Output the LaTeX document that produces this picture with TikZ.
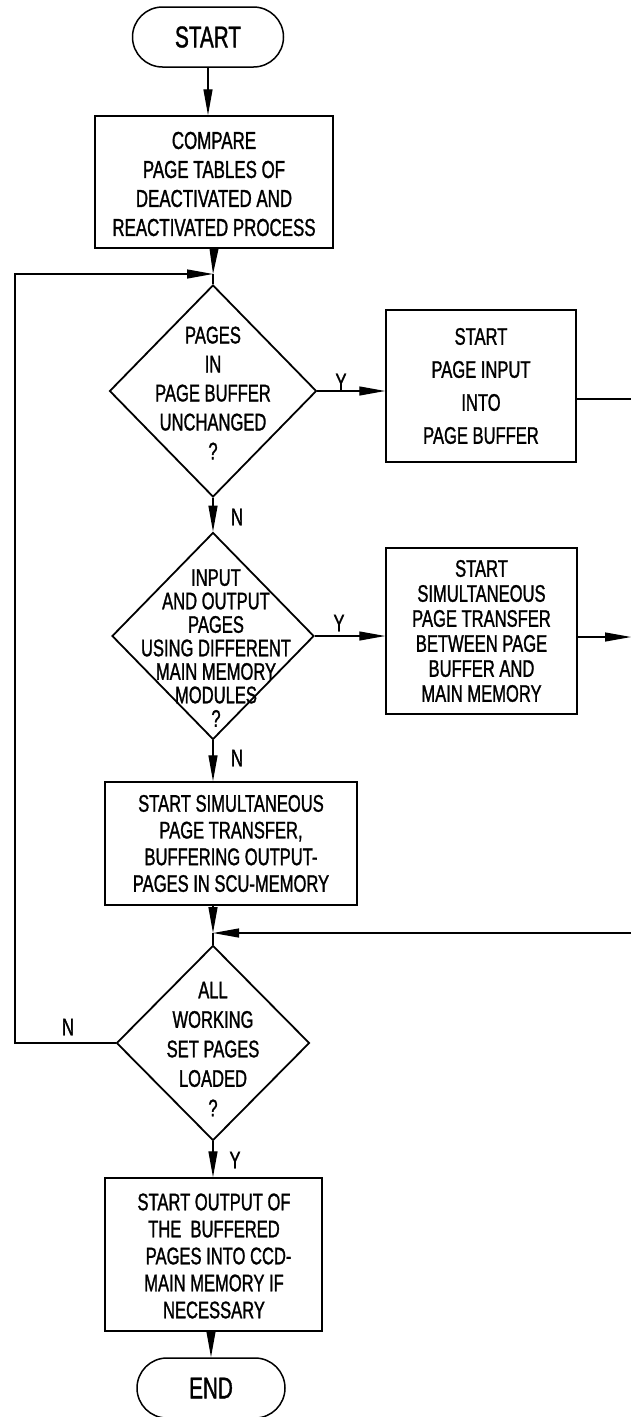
\documentclass[tikz,border=0pt]{standalone}
\usepackage{fontspec}
\usetikzlibrary{shapes.geometric,arrows.meta}
% narrow, slightly heavy sans lettering
\newfontfamily\lett[FakeStretch=0.69,FakeBold=1.2]{Liberation Sans}
\newcommand\lsz[2]{\lett\fontsize{#1pt}{#2pt}\selectfont}

\tikzset{
  terminal/.style={draw, line width=1.5pt, rectangle, rounded corners=30pt,
    minimum height=60pt, inner sep=0pt, font={\lsz{30}{30}}},
  procbox/.style={draw, line width=1.5pt, rectangle, inner sep=0pt},
  decision/.style={draw, line width=1.8pt, diamond, inner sep=0pt},
  txt/.style={align=center, inner sep=0pt},
  lbl/.style={inner sep=0pt, font={\lsz{24}{25}}},
  conn/.style={line width=1.3pt},
  arr/.style={conn, -{Triangle[length=26pt,width=9pt]}}
}

\begin{document}
\begin{tikzpicture}[x=1pt,y=-1pt]
\useasboundingbox[fill=white] (0,0) rectangle (631,1417);

% terminals
\node[terminal, minimum width=151pt] (start) at (208,37) {START};
\node[terminal, minimum width=148pt] (end) at (211,1388) {END};

% process boxes
\node[procbox, minimum width=238pt, minimum height=132pt] (cmp) at (214,182) {};
\node[txt, font={\lsz{24.5}{29}}] at (214,184) {COMPARE\\PAGE TABLES OF\\DEACTIVATED AND\\REACTIVATED PROCESS};

\node[procbox, minimum width=190pt, minimum height=152pt] (b1) at (481,386) {};
\node[txt, font={\lsz{24}{33}}] at (b1) {START\\PAGE INPUT\\INTO\\PAGE BUFFER};

\node[procbox, minimum width=191pt, minimum height=166pt] (b2) at (481.5,631) {};
\node[txt, font={\lsz{24}{25}}] at (b2) {START\\SIMULTANEOUS\\PAGE TRANSFER\\BETWEEN PAGE\\BUFFER AND\\MAIN MEMORY};

\node[procbox, minimum width=252pt, minimum height=123pt] (b3) at (231,843.5) {};
\node[txt, font={\lsz{24}{26.7}}] at (b3) {START SIMULTANEOUS\\PAGE TRANSFER,\\BUFFERING OUTPUT-\\PAGES IN SCU-MEMORY};

\node[procbox, minimum width=217pt, minimum height=153pt] (b4) at (213.5,1254.5) {};
\node[txt, font={\lsz{24}{27}}] at (214,1256) {START OUTPUT OF\\THE\ \ BUFFERED\\\ \ PAGES INTO CCD-\\MAIN MEMORY IF\\NECESSARY};

% decisions
\node[decision, minimum width=207pt, minimum height=212pt] (d1) at (213,391) {};
\node[txt, font={\lsz{24}{29}}] at (213,393) {PAGES\\IN\\PAGE BUFFER\\UNCHANGED\\?};

\node[decision, minimum width=202pt, minimum height=207pt] (d2) at (213,636) {};
\node[txt, font={\lsz{24}{23.5}}] at (216,648) {INPUT\\AND OUTPUT\\PAGES\\USING DIFFERENT\\MAIN MEMORY\\MODULES\\?};

\node[decision, minimum width=193pt, minimum height=195pt] (d3) at (213,1043) {};
\node[txt, font={\lsz{24}{29.5}}] at (213,1049) {ALL\\WORKING\\SET PAGES\\LOADED\\?};

% junctions and cut-off ends at the right margin
\coordinate (j1) at (213,274);
\coordinate (j2) at (213,933);
\coordinate (lx) at (15,274);
\coordinate (r1) at (631,399);
\coordinate (r2) at (631,637);
\coordinate (r3) at (631,933);

% connectors
\draw[arr] (start.south) -- (start.south |- cmp.north);
\draw[arr] (cmp.south) -- (j1);
\draw[conn] (j1) -- (d1.north);
\draw[arr] (d1.east) -- (d1.east -| b1.west);
\draw[conn] (b1.east |- r1) -- (r1);
\draw[arr] (d1.south) -- (d2.north);
\draw[arr] (d2.east) -- (d2.east -| b2.west);
\draw[arr] (b2.east |- r2) -- (r2);
\draw[arr] (d2.south) -- (d2.south |- b3.north);
\draw[arr] (b3.south -| j2) -- (j2);
\draw[conn] (j2) -- (d3.north);
\draw[arr] (r3) -- (j2);
\draw[arr] (d3.south) -- (d3.south |- b4.north);
\draw[arr] (b4.south -| end.north) -- (end.north);
\draw[arr] (d3.west) -| (lx) -- (j1);

% branch labels
\node[lbl] at (341,382) {Y};
\node[lbl] at (237,517) {N};
\node[lbl] at (339,623) {Y};
\node[lbl] at (237,758) {N};
\node[lbl] at (68,1027) {N};
\node[lbl] at (235,1160) {Y};
\end{tikzpicture}
\end{document}
